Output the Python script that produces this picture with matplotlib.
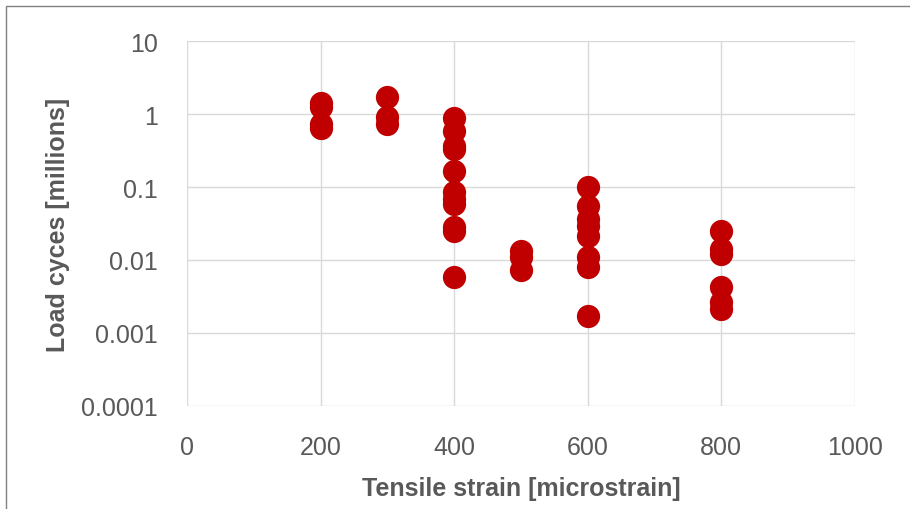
import matplotlib.pyplot as plt
from matplotlib.patches import Rectangle
from matplotlib.ticker import FixedLocator, FixedFormatter, NullLocator

# strain levels and measured load cycles (millions)
strain = [200, 200, 200, 200,
          300, 300, 300,
          400, 400, 400, 400, 400, 400, 400, 400, 400, 400, 400,
          500, 500, 500,
          600, 600, 600, 600, 600, 600, 600, 600,
          800, 800, 800, 800, 800, 800]
cycles = [1.4, 1.25, 0.72, 0.64,
          1.7, 0.9, 0.72,
          0.88, 0.58, 0.36, 0.33, 0.166, 0.085, 0.068, 0.058, 0.028, 0.025, 0.0058,
          0.0133, 0.011, 0.0074,
          0.1, 0.055, 0.036, 0.029, 0.021, 0.011, 0.008, 0.0017,
          0.025, 0.014, 0.012, 0.0043, 0.0027, 0.0021]

y_ticks = [0.0001, 0.001, 0.01, 0.1, 1, 10]
y_labels = ['0.0001', '0.001', '0.01', '0.1', '1', '10']
x_ticks = [0, 200, 400, 600, 800, 1000]

plt.rcParams['font.family'] = ['Liberation Sans', 'DejaVu Sans']

fig = plt.figure(figsize=(9.1, 5.1), dpi=100)
fig.patches.append(Rectangle((6 / 910, -0.1), 1.2, (1 - 7 / 510) + 0.1,
                             transform=fig.transFigure, fill=False,
                             edgecolor='#808080', linewidth=1))
ax = fig.add_axes([0.2055, 0.202, 0.734, 0.7156])

ax.scatter(strain, cycles, s=280, color='#C00000', zorder=3, linewidths=0)

ax.set_yscale('log')
ax.set_ylim(0.0001, 10)
ax.set_xlim(0, 1000)
ax.yaxis.set_major_locator(FixedLocator(y_ticks))
ax.yaxis.set_major_formatter(FixedFormatter(y_labels))
ax.yaxis.set_minor_locator(NullLocator())
ax.set_xticks(x_ticks)

ax.grid(True, color='#D9D9D9', linewidth=1)
ax.set_axisbelow(True)
for sp in ax.spines.values():
    sp.set_visible(False)
ax.tick_params(length=0, labelsize=18, labelcolor='#595959', pad=21)

ax.set_xlabel('Tensile strain [microstrain]', fontsize=18, fontweight='bold',
              color='#595959', labelpad=12)
ax.set_ylabel('Load cyces [millions]', fontsize=18,
              fontweight='bold', color='#595959', labelpad=8)

plt.savefig('out.png')
